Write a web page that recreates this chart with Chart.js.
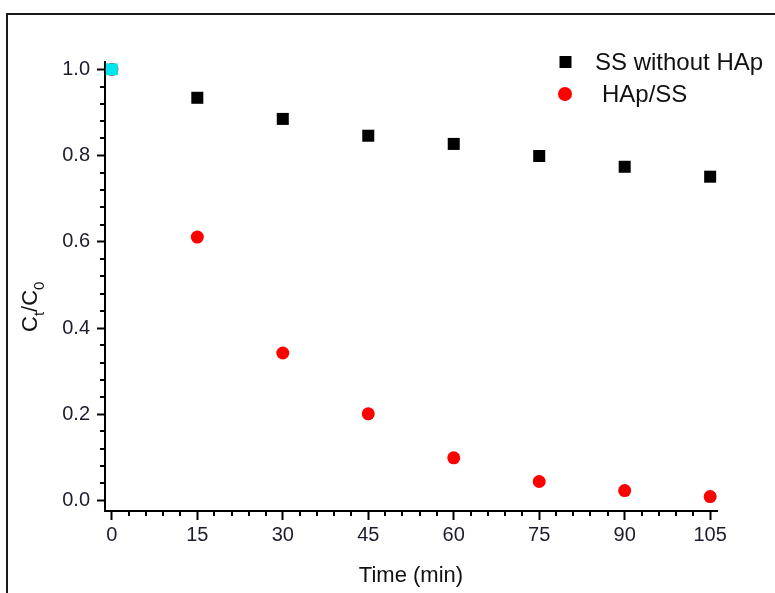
<!DOCTYPE html>
<html>
<head>
<meta charset="utf-8">
<script src="https://cdn.jsdelivr.net/npm/chart.js@4"></script>
<style>
html, body { margin: 0; padding: 0; background: #fff; }
#wrap { position: relative; width: 775px; height: 593px; overflow: hidden; }
#moldura { position: absolute; left: 6px; top: 13px; width: 900px; height: 700px;
  border-top: 2px solid #1a1a1a; border-left: 2px solid #1a1a1a; }
canvas { position: absolute; left: 0; top: 0; }
</style>
</head>
<body>
<div id="wrap">
  <div id="moldura"></div>
  <canvas id="grafico" width="775" height="593"></canvas>
</div>
<script>
// === Dados ===
var tempo = [0, 15, 30, 45, 60, 75, 90, 105];
var semHAp = [1.0, 0.934, 0.885, 0.846, 0.827, 0.799, 0.774, 0.751];
var hapSS = [1.0, 0.611, 0.342, 0.201, 0.099, 0.044, 0.023, 0.009];
var ticksX = [0, 15, 30, 45, 60, 75, 90, 105];
var ticksY = [0, 0.2, 0.4, 0.6, 0.8, 1.0];
var nomes = ['SS without HAp', 'HAp/SS'];

var corTexto = '#1c1c2c';
var fonte = 'Arial, "Liberation Sans", sans-serif';

// primeiro ponto aparece em ciano no original
var corQuadrado = tempo.map(function (t, i) { return i === 0 ? '#00e5ee' : '#000'; });

// === Ticks menores + legenda + título do eixo Y ===
var extras = {
  id: 'extras',
  afterDraw: function (chart) {
    var ctx = chart.ctx;
    var sx = chart.scales.x, sy = chart.scales.y;
    var area = chart.chartArea;
    ctx.save();
    ctx.strokeStyle = '#000';
    ctx.lineWidth = 2;
    // ticks menores em x (a cada 3 min)
    for (var i = 0; i <= 35; i++) {
      if (i % 5 === 0) continue;
      var px = Math.round(sx.getPixelForValue(i * 3));
      ctx.beginPath();
      ctx.moveTo(px, area.bottom);
      ctx.lineTo(px, area.bottom + 5);
      ctx.stroke();
    }
    // ticks menores em y (a cada 0.04)
    for (var j = 0; j <= 25; j++) {
      if (j % 5 === 0) continue;
      var py = Math.round(sy.getPixelForValue(j * 0.04));
      ctx.beginPath();
      ctx.moveTo(area.left - 5, py);
      ctx.lineTo(area.left, py);
      ctx.stroke();
    }

    // legenda
    ctx.fillStyle = '#000';
    ctx.fillRect(559.5, 56, 12, 12);
    ctx.fillStyle = '#ff0000';
    ctx.beginPath();
    ctx.arc(565, 94, 7, 0, Math.PI * 2);
    ctx.fill();
    ctx.fillStyle = '#111';
    ctx.font = '24px ' + fonte;
    ctx.textBaseline = 'alphabetic';
    ctx.textAlign = 'left';
    ctx.fillText(nomes[0], 595, 70);
    ctx.fillText(nomes[1], 602, 101.5);

    // título Y: C_t/C_0
    ctx.translate(37, 332);
    ctx.rotate(-Math.PI / 2);
    var x = 0;
    var big = '22px ' + fonte, small = '15px ' + fonte;
    var partes = [['C', big, 0], ['t', small, 7], ['/', big, 0], ['C', big, 0], ['0', small, 7]];
    partes.forEach(function (p) {
      ctx.font = p[1];
      ctx.fillText(p[0], x, p[2]);
      x += ctx.measureText(p[0]).width;
    });
    ctx.restore();
  }
};

// === Gráfico ===
new Chart(document.getElementById('grafico'), {
  type: 'scatter',
  data: {
    datasets: [{
      label: nomes[0],
      data: tempo.map(function (t, i) { return { x: t, y: semHAp[i] }; }),
      pointStyle: 'rect',
      pointRadius: 8.5,
      pointBackgroundColor: corQuadrado,
      pointBorderColor: corQuadrado,
      pointBorderWidth: 0
    }, {
      label: nomes[1],
      data: tempo.map(function (t, i) { return { x: t, y: hapSS[i] }; }),
      pointStyle: 'circle',
      pointRadius: 6.5,
      pointBackgroundColor: '#ff0000',
      pointBorderWidth: 0
    }]
  },
  options: {
    responsive: false,
    animation: false,
    events: [],
    layout: { padding: { left: 0, top: 62, right: 58, bottom: 0 } },
    plugins: { legend: { display: false }, tooltip: { enabled: false } },
    scales: {
      x: {
        type: 'linear',
        min: -1.2,
        max: 106.2,
        afterBuildTicks: function (s) { s.ticks = ticksX.map(function (v) { return { value: v }; }); },
        afterFit: function (s) { s.height = 82; },
        grid: { drawOnChartArea: false, tickLength: 9, tickWidth: 2, tickColor: '#000' },
        border: { color: '#000', width: 2 },
        ticks: { color: corTexto, font: { size: 20, family: fonte }, padding: 3, maxRotation: 0 },
        title: { display: true, text: 'Time (min)', color: '#111', font: { size: 22, family: fonte }, padding: { top: 0, bottom: 4 } }
      },
      y: {
        min: -0.0244,
        max: 1.017,
        afterBuildTicks: function (s) { s.ticks = ticksY.map(function (v) { return { value: v }; }); },
        afterFit: function (s) { s.width = 105; },
        grid: { drawOnChartArea: false, tickLength: 8, tickWidth: 2, tickColor: '#000' },
        border: { color: '#000', width: 2 },
        ticks: {
          color: corTexto, font: { size: 20, family: fonte }, padding: 7,
          callback: function (v) { return v.toFixed(1); }
        }
      }
    }
  },
  plugins: [extras]
});
</script>
</body>
</html>
